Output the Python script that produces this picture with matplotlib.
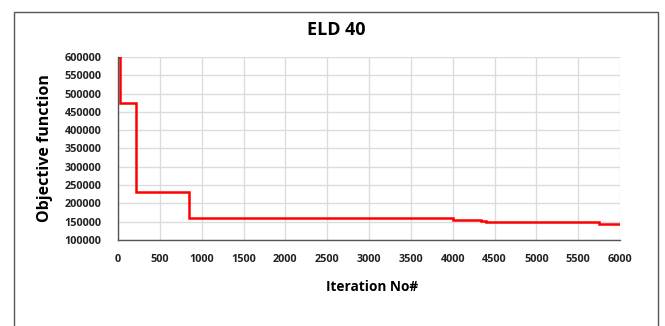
import matplotlib
matplotlib.use("Agg")
import matplotlib.pyplot as plt
from matplotlib.patches import Rectangle

iterations = [0, 20, 20, 220, 220, 850, 850, 4000, 4000, 4340, 4340, 4400, 4400, 5750, 5750, 6000]
objective = [600000, 600000, 475000, 475000, 230000, 230000, 160000, 160000, 155000, 155000, 152000, 152000, 148500, 148500, 145000, 145000]
x_ticks = list(range(0, 6001, 500))
y_ticks = list(range(100000, 600001, 50000))

plt.rcParams['font.family'] = ['Open Sans', 'DejaVu Sans']

fig = plt.figure(figsize=(6.65, 3.26), dpi=100)
fig.patches.append(Rectangle((14/665, -0.05), (658-14)/665, 1-12/326+0.05,
                             transform=fig.transFigure, fill=False,
                             edgecolor='#555555', linewidth=1.0))
ax = fig.add_axes([118/665, 1-240/326, (620-118)/665, (240-57)/326])
ax.plot(iterations, objective, color='#ff0000', linewidth=1.8, solid_joinstyle='miter')
ax.set_xlim(0, 6000)
ax.set_ylim(100000, 600000)
ax.set_xticks(x_ticks)
ax.set_yticks(y_ticks)
ax.set_xticklabels([str(v) for v in x_ticks], fontsize=7.8, fontweight='bold', color='#222222')
ax.set_yticklabels([str(v) for v in y_ticks], fontsize=7.8, fontweight='bold', color='#222222')
ax.tick_params(length=0)
ax.tick_params(axis='y', pad=12)
ax.tick_params(axis='x', pad=10)
ax.grid(True, color='#dcdcdc', linewidth=1.0)
ax.set_axisbelow(True)
for s in ['top', 'right']:
    ax.spines[s].set_visible(False)
for s in ['left', 'bottom']:
    ax.spines[s].set_color('#555555')
    ax.spines[s].set_linewidth(1.0)

fig.text(336/665, 1-30/326, 'ELD 40', ha='center', va='center', fontsize=13, fontweight='bold')
fig.text(372/665, 1-287/326, 'Iteration No#', ha='center', va='center', fontsize=9.8, fontweight='bold')
fig.text(45/665, 1-148/326, 'Objective function', ha='center', va='center', rotation=90, fontsize=11.5, fontweight='bold')

fig.savefig('out.png', dpi=100)
